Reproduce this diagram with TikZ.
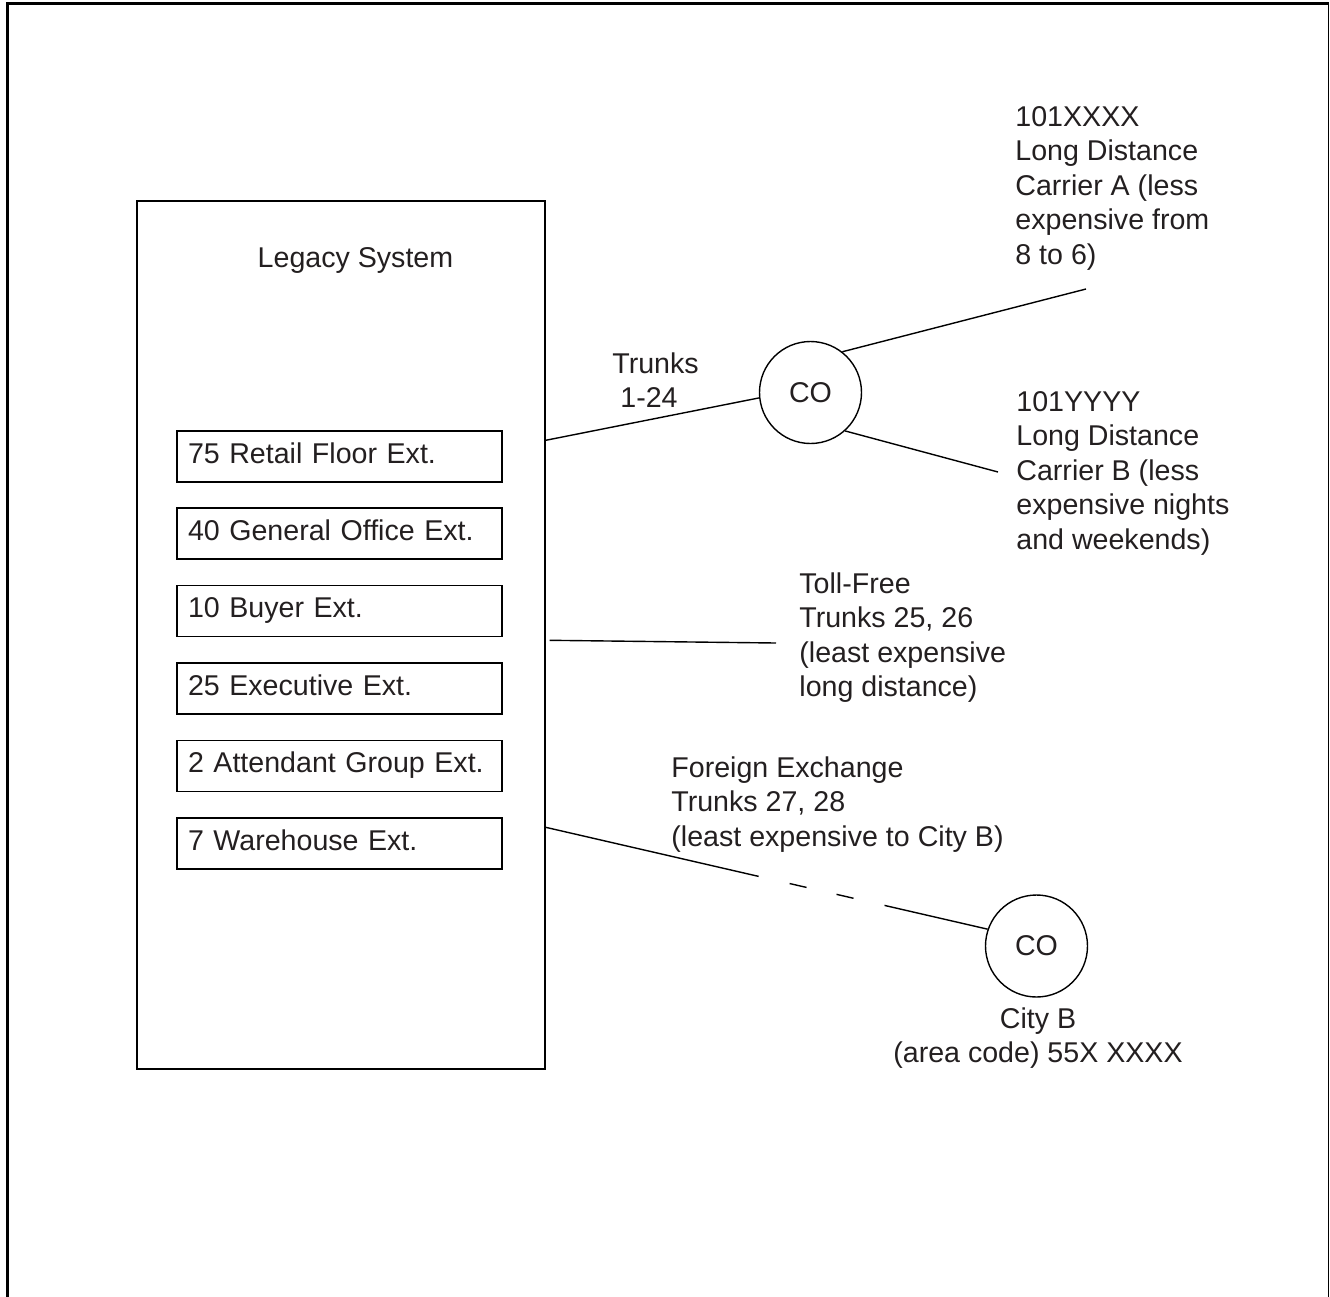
\documentclass[tikz,border=0pt]{standalone}
\usepackage{fontspec}
\setmainfont{Liberation Sans}
\usetikzlibrary{calc}
\definecolor{ink}{HTML}{231F20}
\begin{document}
\begin{tikzpicture}[x=0.5pt,y=-0.5pt,
  txt/.style={font=\fontsize{14.3pt}{17.25pt}\selectfont, text=ink, inner sep=0pt},
  blk/.style={txt, align=left, anchor=north west},
  frame/.style={draw=black},
  wire/.style={draw=black, line width=0.7pt},
  sysbox/.style={draw=black, line width=0.7pt, minimum width=204pt, minimum height=434pt, inner sep=0pt},
  extbox/.style={txt, draw=black, line width=0.7pt, minimum width=162.5pt, minimum height=25.5pt,
     text width=151.5pt, inner xsep=5.5pt, inner ysep=0pt, align=left, text height=0.72em, text depth=0.03em},
  cobox/.style={txt, circle, draw=black, line width=0.7pt, minimum size=51pt}
]
\useasboundingbox (0,0) rectangle (1330,1297);
% outer frame (open at the bottom)
\draw[frame, line width=1.5pt] (7,1297) -- (7,3.5) -- (1328.5,3.5);
\draw[frame, line width=0.75pt] (1328.5,3.5) -- (1328.5,1297);

% legacy system
\node[sysbox] (legacy) at (341,635) {};
\node[txt, anchor=base] (title) at (355.5,267) {Legacy System};
\node[extbox] (b1) at (339.5,456.5) {75 Retail Floor Ext.};
\node[extbox] (b2) at (339.5,533.5) {40 General Office Ext.};
\node[extbox] (b3) at (339.5,611) {10 Buyer Ext.};
\node[extbox] (b4) at (339.5,688.5) {25 Executive Ext.};
\node[extbox] (b5) at (339.5,766) {2 Attendant Group Ext.};
\node[extbox] (b6) at (339.5,843.5) {7 Warehouse Ext.};

% central offices
\node[cobox] (co1) at (810.5,392.5) {CO};
\node[cobox] (co2) at (1036.5,946) {CO};

% labels
\node[blk] (trk) at (612,352) {Trunks\\\hspace*{0.28em}1-24};
\node[blk] (carA) at (1015,106) {101XXXX\\Long Distance\\Carrier A (less\\expensive from\\8 to 6)};
\node[blk] (carB) at (1016,391) {101YYYY\\Long Distance\\Carrier B (less\\expensive nights\\and weekends)};
\node[blk] (toll) at (799,572) {Toll-Free\\Trunks 25, 26\\(least expensive\\long distance)};
\node[blk] (fx) at (671,756) {Foreign Exchange\\Trunks 27, 28\\(least expensive to City B)};
\node[txt, align=center, anchor=north] (city) at (1038,1007) {City B\\(area code) 55X XXXX};

% connector ends
\coordinate (ca) at (1086,289);
\coordinate (cb) at (998,472);
\coordinate (tfa) at (776,643);

% connectors
\draw[wire] ($(legacy.north east)+(0,240)$) -- (co1.186);
\draw[wire] (co1.52.6) -- (ca);
\draw[wire] (co1.-48.3) -- (cb);
\draw[wire] ($(legacy.north east)+(4,440)$) -- (tfa);
\draw[wire, dash pattern=on 109.25pt off 15.9pt on 8.7pt off 15.4pt on 8.7pt off 15.9pt on 80pt]
  ($(legacy.north east)+(0,627)$) -- (co2.161.2);
\end{tikzpicture}
\end{document}
